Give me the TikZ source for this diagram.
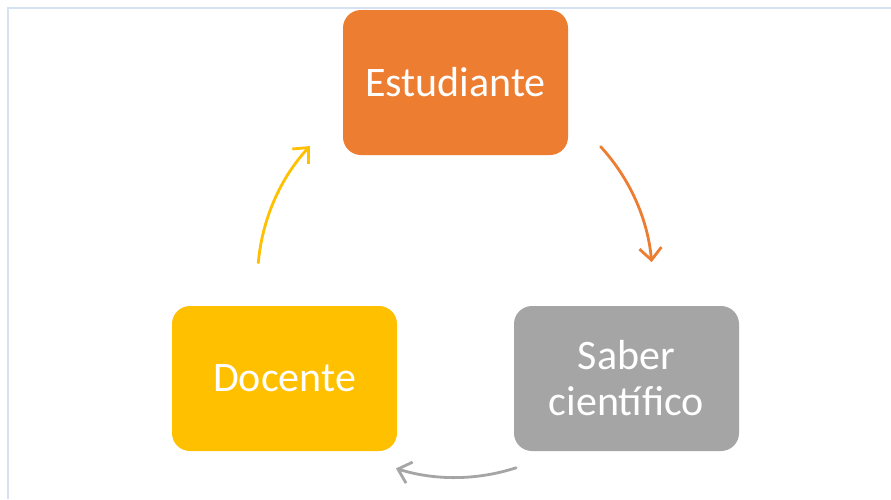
\documentclass[tikz,border=0pt]{standalone}
\usepackage{fontspec}
\setmainfont{Carlito}
\usetikzlibrary{arrows.meta}
\definecolor{corange}{HTML}{ED7D31}
\definecolor{cyellow}{HTML}{FFC000}
\definecolor{cgray}{HTML}{A5A5A5}
\definecolor{cframe}{HTML}{D6E1F2}
\tikzset{
  boxnode/.style={rounded corners=18pt, minimum width=225pt, minimum height=145pt,
    inner sep=0pt, text=white, align=center, font=\fontsize{42}{46}\selectfont},
  cyclearrow/.style={line width=2.8pt, line cap=round, -{Straight Barb[length=12pt,width=22pt,line width=2.8pt]}},
}
\begin{document}
\begin{tikzpicture}[x=1pt,y=-1pt]
\useasboundingbox (0,0) rectangle (891,499);
\fill[white] (0,0) rectangle (891,499);
\draw[cframe, line width=2pt] (8,499) -- (8,8) -- (891,8);
\node[boxnode, fill=corange] (est) at (455.5,82.5) {Estudiante};
\node[boxnode, fill=cgray] (sab) at (626.5,378.5) {Saber\\científico};
\node[boxnode, fill=cyellow] (doc) at (284.5,378.5) {Docente};
% arrow start points on the cycle circle (centre 455,280, radius 197.5)
\coordinate (s1) at (600.6,146.6);
\coordinate (s2) at (516.0,467.8);
\coordinate (s3) at (258.3,262.8);
\draw[cyclearrow, corange] (s1) arc[start angle=-42.5, end angle=-5.2, radius=197.5];
\draw[cyclearrow, cgray] (s2) arc[start angle=72, end angle=107.4, radius=197.5];
\draw[cyclearrow, cyellow] (s3) arc[start angle=185, end angle=222.7, radius=197.5];
\end{tikzpicture}
\end{document}
